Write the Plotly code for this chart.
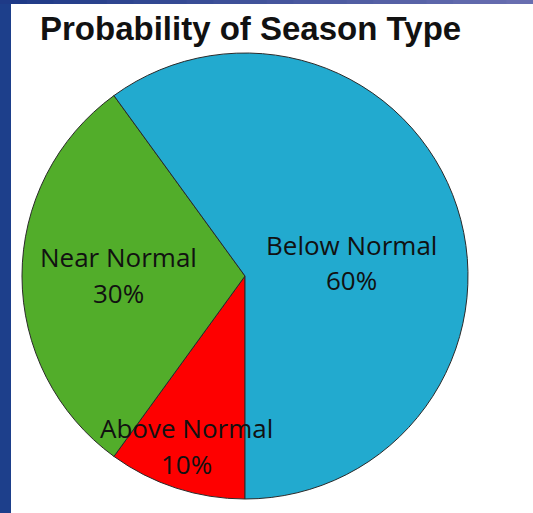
import plotly.graph_objects as go

labels = ["Above Normal", "Near Normal", "Below Normal"]
values = [10, 30, 60]
colors = ["#fe0000", "#52ad2a", "#22aacf"]
title_text = "Probability of Season Type"

W, H = 533, 513

def px(x):
    return x / W

def py(y):
    return 1 - y / H

fig = go.Figure()
fig.add_trace(go.Pie(
    labels=labels,
    values=values,
    sort=False,
    direction="clockwise",
    rotation=180,
    marker=dict(colors=colors, line=dict(color="#2a2a2a", width=1)),
    textinfo="none",
    textposition="none",
    hoverinfo="label+percent",
    showlegend=False,
    domain=dict(x=[px(22), px(468)], y=[py(499), py(53)]),
))

# label positions (pixel centres) for name line and percent line
label_pos = {
    "Below Normal": ((351, 244), (351, 279)),
    "Near Normal": ((118, 256), (118, 292)),
    "Above Normal": ((186, 427), (186, 463)),
}
annotations = []
for lab, val in zip(labels, values):
    (x1, y1), (x2, y2) = label_pos[lab]
    for txt, (x, y) in ((lab, (x1, y1)), (f"{val}%", (x2, y2))):
        annotations.append(dict(
            text=txt, x=px(x), y=py(y + 1), xref="paper", yref="paper",
            xanchor="center", yanchor="middle", showarrow=False,
            font=dict(family="Open Sans", size=26, color="#111111"),
        ))
annotations.append(dict(
    text="<b>" + title_text + "</b>", x=px(250), y=py(28), xref="paper", yref="paper",
    xanchor="center", yanchor="middle", showarrow=False,
    font=dict(family="Liberation Sans, Arial", size=33, color="#111111"),
))

shapes = [
    dict(type="rect", xref="paper", yref="paper", x0=0, x1=px(11), y0=0, y1=1,
         fillcolor="#1d3f8b", line=dict(width=0), layer="above"),
]
# top strip gradient
n = 20
c0 = (30, 58, 135)
c1 = (104, 110, 176)
for i in range(n):
    t = i / (n - 1)
    c = tuple(int(round(a + (b - a) * t)) for a, b in zip(c0, c1))
    shapes.append(dict(type="rect", xref="paper", yref="paper",
                       x0=i / n, x1=(i + 1) / n + 0.002, y0=py(4), y1=1,
                       fillcolor="rgb(%d,%d,%d)" % c, line=dict(width=0), layer="above"))

fig.update_layout(
    width=W, height=H,
    margin=dict(l=0, r=0, t=0, b=0),
    paper_bgcolor="white",
    plot_bgcolor="white",
    annotations=annotations,
    shapes=shapes,
)

fig.write_html(
    "out.html",
    config={"displayModeBar": False},
    post_script="document.body.style.margin='0';document.body.style.overflow='hidden';",
)
